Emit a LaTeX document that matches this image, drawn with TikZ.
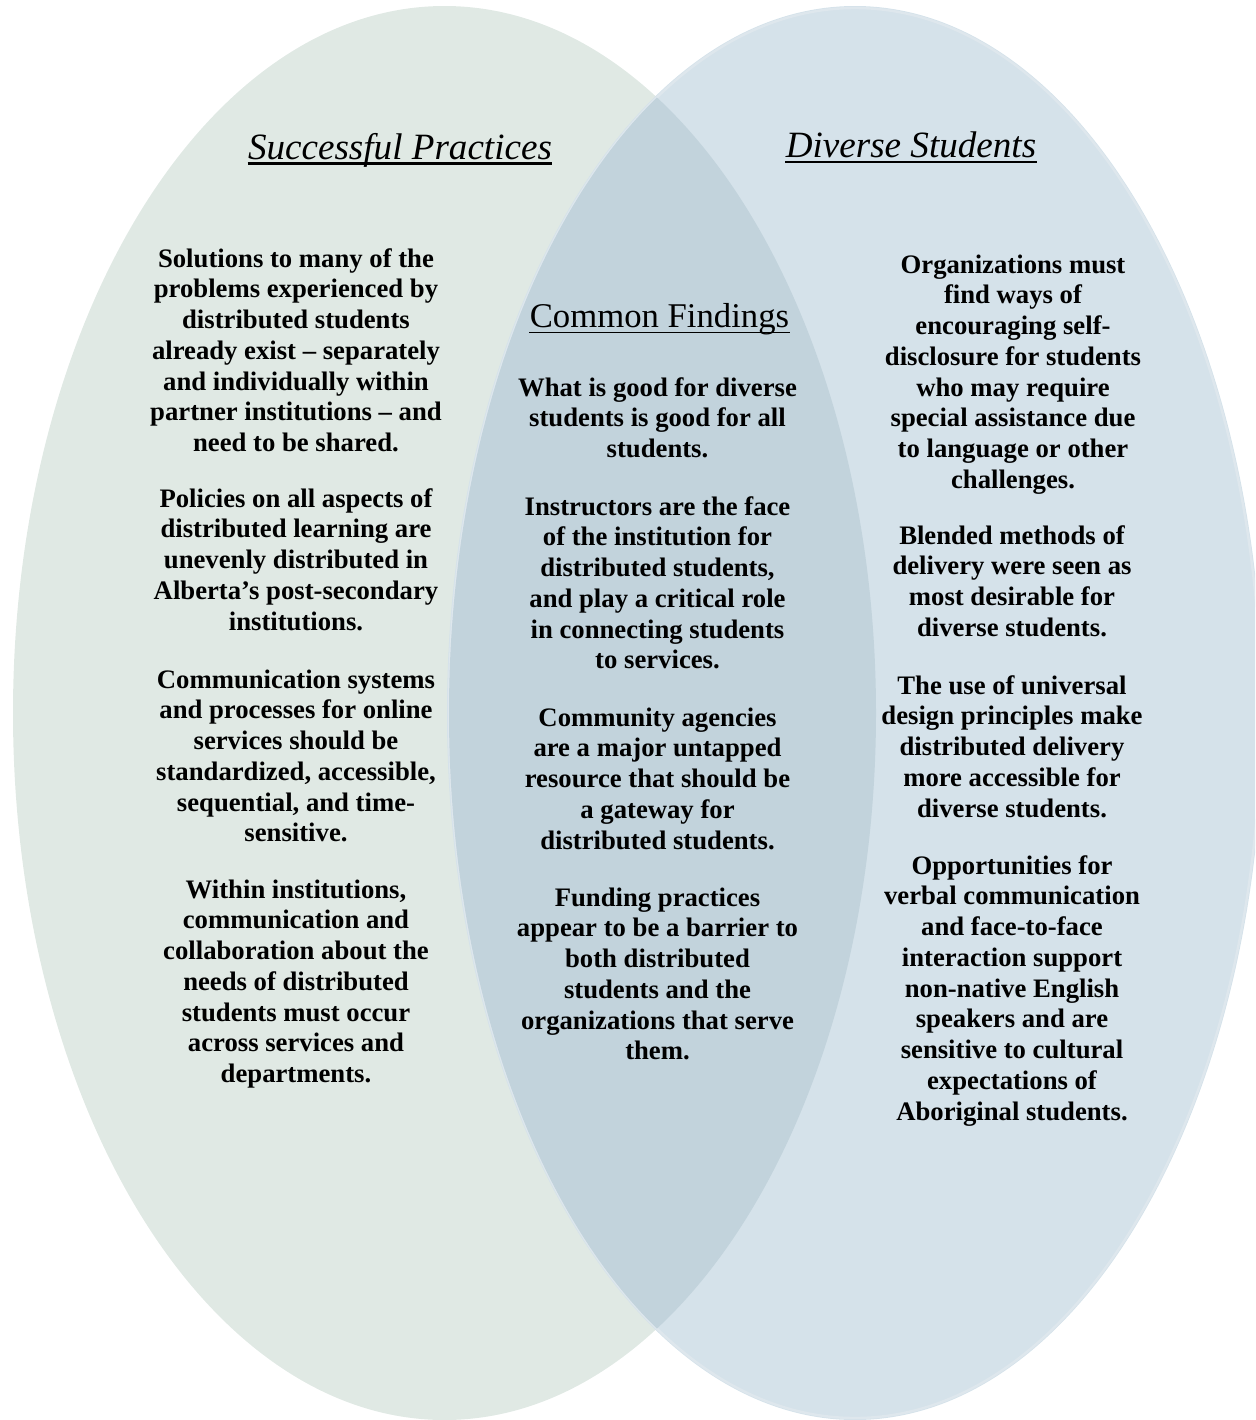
\documentclass[tikz,border=0pt]{standalone}
\usepackage{fontspec}
\setmainfont{Liberation Serif}
\definecolor{leftfill}{HTML}{E0E9E4}
\definecolor{rightfill}{HTML}{D5E2EA}
\definecolor{overlapfill}{HTML}{C2D3DC}
\definecolor{rightrim}{HTML}{DEE7ED}
\begin{document}
\begin{tikzpicture}[x=0.5pt,y=-0.5pt,
  body/.style={font=\fontsize{13.35}{15.375}\selectfont\bfseries, align=center, inner sep=0pt, anchor=base},
  titletext/.style={font=\fontsize{18.55}{22}\selectfont\itshape, inner sep=0pt, anchor=base},
  commontext/.style={font=\fontsize{17.35}{20}\selectfont, inner sep=0pt, anchor=base},
  uline/.style={line width=1.1pt, black}]
\useasboundingbox (0,0) rectangle (1255,1420);
\begin{scope}
\clip (0,0) rectangle (1255,1420);
% ellipses
\fill[leftfill] (444.5,713) ellipse [x radius=431.5, y radius=707];
\fill[rightfill] (855,713) ellipse [x radius=408, y radius=707];
\draw[rightrim, line width=1.2pt] (855,713) ellipse [x radius=406, y radius=705];
\begin{scope}
\clip (444.5,713) ellipse [x radius=431.5, y radius=707];
\fill[overlapfill] (855,713) ellipse [x radius=406, y radius=705];
\end{scope}
\end{scope}
% titles
\node[titletext] (sp) at (400,159) {Successful Practices};
\draw[uline] ([yshift=-2.2pt]sp.base west) -- ([yshift=-2.2pt]sp.base east);
\node[titletext] (ds) at (911,157) {Diverse Students};
\draw[uline] ([yshift=-2.6pt]ds.base west) -- ([yshift=-2.6pt]ds.base east);
\node[commontext] (cf) at (659.5,327) {Common Findings};
\draw[uline, line width=0.8pt] ([yshift=-2.8pt]cf.base west) -- ([yshift=-2.8pt]cf.base east);
% left column (positions are last-line baselines)
\node[body] (l1) at (296,451.5) {Solutions to many of the\\problems experienced by\\distributed students\\already exist – separately\\and individually within\\partner institutions – and\\need to be shared.};
\node[body] (l2) at (296,630) {Policies on all aspects of\\distributed learning are\\unevenly distributed in\\Alberta’s post-secondary\\institutions.};
\node[body] (l3) at (296,841.75) {Communication systems\\and processes for online\\services should be\\standardized, accessible,\\sequential, and time-\\sensitive.};
\node[body] (l4) at (296,1082.5) {Within institutions,\\communication and\\collaboration about the\\needs of distributed\\students must occur\\across services and\\departments.};
% middle column
\node[body] (m1) at (657.5,457.5) {What is good for diverse\\students is good for all\\students.};
\node[body] (m2) at (657.5,668.75) {Instructors are the face\\of the institution for\\distributed students,\\and play a critical role\\in connecting students\\to services.};
\node[body] (m3) at (657.5,849) {Community agencies\\are a major untapped\\resource that should be\\a gateway for\\distributed students.};
\node[body] (m4) at (657.5,1059.75) {Funding practices\\appear to be a barrier to\\both distributed\\students and the\\organizations that serve\\them.};
% right column
\node[body] (r1) at (1013,488.25) {Organizations must\\find ways of\\encouraging self-\\disclosure for students\\who may require\\special assistance due\\to language or other\\challenges.};
\node[body] (r2) at (1012,636.25) {Blended methods of\\delivery were seen as\\most desirable for\\diverse students.};
\node[body] (r3) at (1012,817) {The use of universal\\design principles make\\distributed delivery\\more accessible for\\diverse students.};
\node[body] (r4) at (1012,1120) {Opportunities for\\verbal communication\\and face-to-face\\interaction support\\non-native English\\speakers and are\\sensitive to cultural\\expectations of\\Aboriginal students.};
\end{tikzpicture}
\end{document}
